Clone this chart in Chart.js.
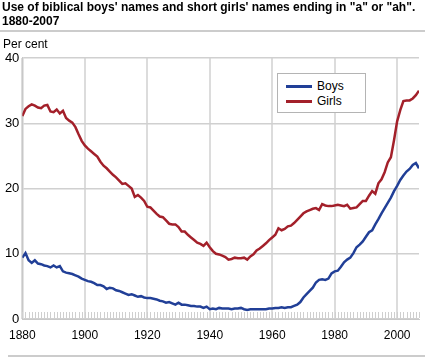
<!DOCTYPE html>
<html>
<head>
<meta charset="utf-8">
<script src="https://cdn.jsdelivr.net/npm/chart.js@4"></script>
<style>
  html, body { margin: 0; padding: 0; background: #fff; }
  body { width: 434px; height: 358px; position: relative; overflow: hidden; font-family: "Liberation Sans", Arial, sans-serif; }
  #title { position: absolute; left: 2px; top: 0px; font-weight: bold; font-size: 12px; line-height: 14px; color: #000; white-space: nowrap; }
  #topline { position: absolute; left: 0; top: 30px; width: 425px; height: 2px; background: #cccccc; }
  #botline { position: absolute; left: 8px; top: 355px; width: 417px; height: 2px; background: #cccccc; }
  #unit { position: absolute; left: 3px; top: 37px; font-size: 12px; color: #000; }
  #wrap { position: absolute; left: 0; top: 0; width: 434px; height: 358px; }
  #legend { position: absolute; left: 277px; top: 73px; width: 87px; height: 38px; border: 1px solid #b4b4b4; background: #fff; font-size: 12px; }
  .item { position: absolute; left: 8px; height: 14px; line-height: 14px; }
  .sw { position: absolute; left: 0; top: 6px; width: 26px; height: 2.5px; }
  .lab { position: absolute; left: 31px; top: 0; color: #000; }
</style>
</head>
<body>
<div id="wrap"><canvas id="c" width="434" height="358"></canvas></div>
<div id="title">Use of biblical boys' names and short girls' names ending in "a" or "ah".<br>1880-2007</div>
<div id="topline"></div>
<div id="botline"></div>
<div id="unit">Per cent</div>
<div id="legend"></div>
<script>
const seriesNames = ["Boys", "Girls"];
const seriesColors = ["#213f97", "#a3202a"];
const firstYear = 1880;
const lastYear = 2007;
const xTickLabels = [1880, 1900, 1920, 1940, 1960, 1980, 2000];
const yTickLabels = [0, 10, 20, 30, 40];

const boys = [
  9.4, 10.1, 9.0, 8.6, 9.0, 8.5, 8.4, 8.2, 8.1, 7.9,
  8.2, 7.9, 8.1, 7.3, 7.1, 7.0, 6.9, 6.7, 6.5, 6.2,
  6.0, 5.8, 5.7, 5.5, 5.2, 5.2, 5.0, 4.6, 4.8, 4.7,
  4.4, 4.3, 4.1, 3.9, 3.7, 3.8, 3.6, 3.4, 3.5, 3.3,
  3.2, 3.2, 3.1, 3.0, 2.8, 2.7, 2.5, 2.6, 2.4, 2.2,
  2.5, 2.2, 2.2, 2.1, 2.0, 2.0, 1.9, 1.9, 1.7, 1.9,
  1.5, 1.6, 1.5, 1.7, 1.6, 1.6, 1.6, 1.5, 1.6, 1.6,
  1.7, 1.5, 1.4, 1.5, 1.5, 1.5, 1.5, 1.5, 1.5, 1.6,
  1.6, 1.7, 1.7, 1.8, 1.7, 1.8, 1.8, 2.0, 2.2, 2.6,
  3.3, 3.8, 4.3, 4.8, 5.6, 6.0, 6.1, 6.0, 6.2, 7.0,
  7.3, 7.4, 8.0, 8.7, 9.1, 9.4, 10.1, 11.0, 11.4, 11.9,
  12.6, 13.3, 13.6, 14.5, 15.3, 16.2, 17.0, 17.8, 18.6, 19.6,
  20.4, 21.3, 22.0, 22.6, 23.0, 23.6, 23.9, 23.1
];
const girls = [
  31.1, 32.2, 32.6, 32.9, 32.7, 32.4, 32.3, 32.7, 32.8, 31.8,
  31.7, 32.1, 31.5, 31.9, 30.8, 30.4, 30.1, 29.4, 28.3, 27.3,
  26.6, 26.1, 25.7, 25.3, 24.9, 24.1, 23.5, 23.1, 22.6, 22.1,
  21.7, 21.2, 20.7, 20.8, 20.4, 20.0, 18.7, 19.0, 18.6, 18.1,
  17.2, 17.1, 16.6, 16.1, 15.7, 15.6, 15.1, 14.6, 14.5, 14.5,
  14.1, 13.4, 13.4, 12.9, 12.5, 12.1, 11.7, 11.5, 11.2, 11.7,
  11.0, 10.4, 10.0, 9.9, 9.7, 9.5, 9.1, 9.2, 9.4, 9.3,
  9.3, 9.4, 9.1, 9.6, 9.9, 10.5, 10.8, 11.2, 11.6, 12.1,
  12.5, 12.9, 13.9, 13.6, 13.8, 14.2, 14.3, 14.7, 15.2, 15.7,
  16.2, 16.5, 16.7, 16.9, 17.0, 16.7, 17.6, 17.4, 17.3, 17.3,
  17.4, 17.5, 17.4, 17.3, 17.5, 16.9, 17.0, 17.1, 17.6, 18.1,
  18.1, 18.9, 19.6, 19.2, 20.8, 21.4, 22.5, 24.0, 24.8, 27.4,
  30.3, 32.0, 33.4, 33.5, 33.5, 33.8, 34.3, 35.0
];

const years = [];
for (let y = firstYear; y <= lastYear; y++) years.push(y);

const toPoints = arr => arr.map((v, i) => ({ x: years[i], y: v }));

// HTML legend
const legend = document.getElementById('legend');
seriesNames.forEach((name, i) => {
  const it = document.createElement('div');
  it.className = 'item';
  it.style.top = (5 + i * 15) + 'px';
  it.innerHTML = '<div class="sw" style="background:' + seriesColors[i] + '"></div><div class="lab">' + name + '</div>';
  legend.appendChild(it);
});

const minorTicks = {
  id: 'minorTicks',
  beforeDatasetsDraw(chart) {
    const xs = chart.scales.x;
    const ctx = chart.ctx;
    const bottom = chart.chartArea.bottom;
    ctx.save();
    ctx.strokeStyle = '#cfcfcf';
    ctx.lineWidth = 1;
    ctx.beginPath();
    years.forEach(yr => {
      const px = Math.round(xs.getPixelForValue(yr)) + 0.5;
      ctx.moveTo(px, bottom - 1);
      ctx.lineTo(px, bottom - 7);
    });
    ctx.stroke();
    ctx.restore();
  }
};

Chart.defaults.font.family = '"Liberation Sans", Arial, sans-serif';
Chart.defaults.font.size = 12;
Chart.defaults.color = '#000';

new Chart(document.getElementById('c'), {
  type: 'line',
  data: {
    datasets: [
      { label: seriesNames[0], data: toPoints(boys), borderColor: seriesColors[0], borderWidth: 2.5, pointRadius: 0, tension: 0, fill: false },
      { label: seriesNames[1], data: toPoints(girls), borderColor: seriesColors[1], borderWidth: 2.5, pointRadius: 0, tension: 0, fill: false }
    ]
  },
  options: {
    responsive: false,
    animation: false,
    events: [],
    layout: { padding: { left: 0, right: 15, top: 58, bottom: 9 } },
    plugins: { legend: { display: false }, title: { display: false }, tooltip: { enabled: false } },
    scales: {
      x: {
        type: 'linear',
        min: firstYear,
        max: lastYear,
        afterBuildTicks: s => { s.ticks = xTickLabels.map(v => ({ value: v })); },
        afterFit: s => { s.height = 30; },
        ticks: { padding: 9, autoSkip: false, maxRotation: 0, callback: v => String(v), font: { size: 12 } },
        grid: { color: '#dcdcdc', lineWidth: 2, drawTicks: false },
        border: { color: '#c8c8c8', width: 1 }
      },
      y: {
        min: 0,
        max: 40,
        afterBuildTicks: s => { s.ticks = yTickLabels.map(v => ({ value: v })); },
        afterFit: s => { s.width = 22; },
        ticks: { padding: 3, font: { size: 13 } },
        grid: { color: '#d0d0d0', lineWidth: 1.5, drawTicks: false },
        border: { color: '#c8c8c8', width: 1.5 }
      }
    }
  },
  plugins: [minorTicks]
});
</script>
</body>
</html>
